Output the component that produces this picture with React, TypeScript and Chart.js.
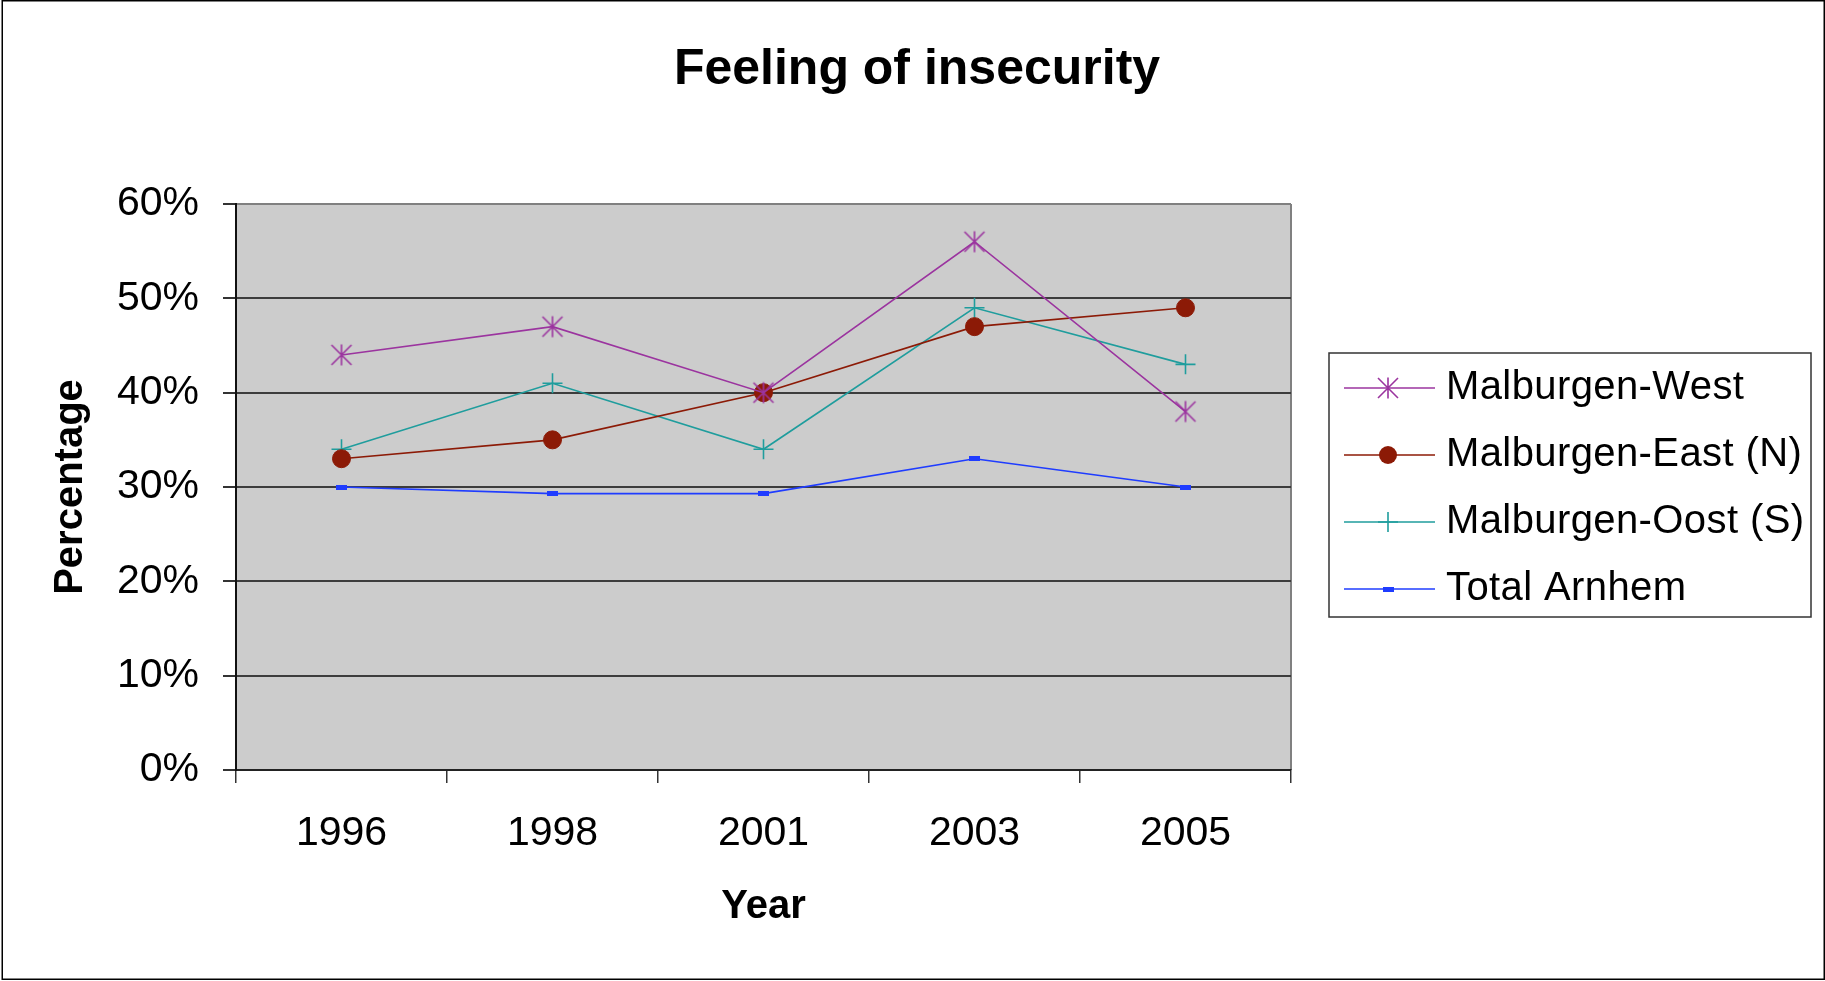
import React, { useEffect, useRef } from 'react';
import { Chart, registerables } from 'chart.js';

Chart.register(...registerables);

const TITLE = 'Feeling of insecurity';
const X_TITLE = 'Year';
const Y_TITLE = 'Percentage';
const years = ['1996', '1998', '2001', '2003', '2005'];
const seriesNames = ['Malburgen-West', 'Malburgen-East (N)', 'Malburgen-Oost (S)', 'Total Arnhem'];
const malburgenWest = [44, 47, 40, 56, 38];
const malburgenEast = [33, 35, 40, 47, 49];
const malburgenOost = [34, 41, 34, 49, 43];
const totalArnhem = [30, 29.3, 29.3, 33, 30];
const yMin = 0;
const yMax = 60;
const yStep = 10;

const FONT = "'Liberation Sans', Arial, Helvetica, sans-serif";
const C_WEST = '#9b349f';
const C_EAST = '#8c1a06';
const C_OOST = '#1f9d9d';
const C_TOTAL = '#1f3cff';

function makeStar(color: string) {
  const c = document.createElement('canvas');
  c.width = 24;
  c.height = 24;
  const g = c.getContext('2d')!;
  g.strokeStyle = color;
  g.lineWidth = 1.6;
  g.beginPath();
  g.moveTo(2, 2);
  g.lineTo(22, 22);
  g.moveTo(22, 2);
  g.lineTo(2, 22);
  g.moveTo(12, 1.5);
  g.lineTo(12, 22.5);
  g.stroke();
  return c;
}

function makeDash(color: string) {
  const c = document.createElement('canvas');
  c.width = 11;
  c.height = 5;
  const g = c.getContext('2d')!;
  g.fillStyle = color;
  g.fillRect(0, 0, 11, 5);
  return c;
}

export default function App() {
  const ref = useRef<HTMLCanvasElement | null>(null);

  useEffect(() => {
    if (!ref.current) return;
    const star = makeStar(C_WEST);
    const dash = makeDash(C_TOTAL);

    const framePlugin = {
      id: 'frame',
      beforeDraw(chart: any) {
        const { ctx, chartArea: a, width, height } = chart;
        ctx.save();
        ctx.fillStyle = '#ffffff';
        ctx.fillRect(0, 0, width, height);
        ctx.fillStyle = '#cccccc';
        ctx.fillRect(a.left, a.top, a.right - a.left, a.bottom - a.top);
        ctx.strokeStyle = '#808080';
        ctx.lineWidth = 2;
        ctx.beginPath();
        ctx.moveTo(a.right, a.top);
        ctx.lineTo(a.right, a.bottom);
        ctx.stroke();
        ctx.strokeStyle = '#000000';
        ctx.lineWidth = 1.5;
        ctx.strokeRect(2.25, 0.75, width - 3, height - 2.5);
        ctx.restore();
      },
    };

    const legendPlugin = {
      id: 'boxLegend',
      afterDraw(chart: any) {
        const { ctx, chartArea: a } = chart;
        const w = 482;
        const h = 264;
        const left = a.right + 38;
        const top = (a.top + a.bottom) / 2 - h / 2 - 2;
        ctx.save();
        ctx.strokeStyle = '#333333';
        ctx.lineWidth = 1.5;
        ctx.strokeRect(left, top, w, h);
        chart.data.datasets.forEach((ds: any, i: number) => {
          const y = top + 35 + i * 67;
          const mx = left + 59;
          ctx.strokeStyle = ds.borderColor;
          ctx.lineWidth = 1.5;
          ctx.beginPath();
          ctx.moveTo(left + 15, y);
          ctx.lineTo(left + 106, y);
          ctx.stroke();
          const ps = ds.pointStyle;
          if (ps === 'circle') {
            ctx.fillStyle = ds.pointBackgroundColor;
            ctx.beginPath();
            ctx.arc(mx, y, ds.pointRadius, 0, Math.PI * 2);
            ctx.fill();
          } else if (ps === 'cross') {
            ctx.strokeStyle = ds.pointBorderColor;
            ctx.lineWidth = ds.pointBorderWidth;
            ctx.beginPath();
            ctx.moveTo(mx, y - ds.pointRadius);
            ctx.lineTo(mx, y + ds.pointRadius);
            ctx.moveTo(mx - ds.pointRadius, y);
            ctx.lineTo(mx + ds.pointRadius, y);
            ctx.stroke();
          } else if (ps && typeof ps === 'object') {
            ctx.drawImage(ps, mx - ps.width / 2, y - ps.height / 2);
          }
          ctx.fillStyle = '#000000';
          ctx.font = `40px ${FONT}`;
          (ctx as any).letterSpacing = '0.4px';
          ctx.textAlign = 'left';
          ctx.textBaseline = 'alphabetic';
          ctx.fillText(ds.label, left + 117, y + 11);
          (ctx as any).letterSpacing = '0px';
        });
        ctx.restore();
      },
    };

    const chart = new Chart(ref.current, {
      type: 'line',
      data: {
        labels: years,
        datasets: [
          {
            label: seriesNames[0],
            data: malburgenWest,
            borderColor: C_WEST,
            borderWidth: 1.6,
            pointStyle: star as any,
            pointRadius: 10,
            pointBackgroundColor: C_WEST,
            pointBorderColor: C_WEST,
            fill: false,
            tension: 0,
          },
          {
            label: seriesNames[1],
            data: malburgenEast,
            borderColor: C_EAST,
            borderWidth: 1.6,
            pointStyle: 'circle',
            pointRadius: 9,
            pointBackgroundColor: C_EAST,
            pointBorderColor: C_EAST,
            pointBorderWidth: 1,
            fill: false,
            tension: 0,
          },
          {
            label: seriesNames[2],
            data: malburgenOost,
            borderColor: C_OOST,
            borderWidth: 1.6,
            pointStyle: 'cross',
            pointRadius: 10,
            pointBackgroundColor: C_OOST,
            pointBorderColor: C_OOST,
            pointBorderWidth: 1.6,
            fill: false,
            tension: 0,
          },
          {
            label: seriesNames[3],
            data: totalArnhem,
            borderColor: C_TOTAL,
            borderWidth: 1.6,
            pointStyle: dash as any,
            pointRadius: 5,
            pointBackgroundColor: C_TOTAL,
            pointBorderColor: C_TOTAL,
            fill: false,
            tension: 0,
          },
        ],
      },
      options: {
        animation: false,
        responsive: false,
        devicePixelRatio: 1,
        layout: { padding: { left: 9, right: 0, top: 0, bottom: 0 } },
        plugins: {
          legend: { display: false },
          tooltip: { enabled: false },
          title: {
            display: true,
            text: TITLE,
            color: '#000000',
            font: { family: FONT, size: 50, weight: 'bold' },
            padding: { top: 40, bottom: 104 },
          },
        },
        scales: {
          x: {
            type: 'category',
            offset: true,
            grid: {
              display: true,
              drawOnChartArea: false,
              drawTicks: true,
              tickLength: 13,
              offset: true,
              color: '#333333',
              lineWidth: 1.5,
            },
            border: { display: true, color: '#222222', width: 2 },
            ticks: {
              color: '#000000',
              font: { family: FONT, size: 41 },
              padding: 26,
              maxRotation: 0,
              autoSkip: false,
            },
            title: {
              display: true,
              text: X_TITLE,
              color: '#000000',
              font: { family: FONT, size: 40, weight: 'bold' },
              padding: { top: 0, bottom: 50 },
            },
            afterFit: (s: any) => {
              s.height = 211;
            },
          },
          y: {
            type: 'linear',
            position: 'left',
            min: yMin,
            max: yMax,
            ticks: {
              stepSize: yStep,
              color: '#000000',
              font: { family: FONT, size: 41 },
              padding: 24,
              callback: (v: any) => `${v}%`,
            },
            grid: {
              color: (c: any) => (c.tick && c.tick.value === yMax ? '#808080' : '#3c3c3c'),
              tickColor: '#333333',
              lineWidth: 2,
              tickLength: 13,
              drawTicks: true,
            },
            border: { display: true, color: '#111111', width: 2 },
            title: {
              display: true,
              text: Y_TITLE,
              color: '#000000',
              font: { family: FONT, size: 40, weight: 'bold' },
              padding: { top: 38, bottom: 0 },
            },
            afterFit: (s: any) => {
              s.width = 227;
            },
          },
          legendSpace: {
            type: 'linear',
            position: 'right',
            display: true,
            grid: { display: false, drawTicks: false },
            ticks: { display: false },
            border: { display: false },
            afterFit: (s: any) => {
              s.width = 534;
            },
          },
        },
      } as any,
      plugins: [framePlugin, legendPlugin],
    });
    return () => chart.destroy();
  }, []);

  return (
    <div style={{ position: 'absolute', left: 0, top: 0, width: 1825, height: 981 }}>
      <canvas ref={ref} width={1825} height={981} style={{ display: 'block', width: 1825, height: 981 }} />
    </div>
  );
}
